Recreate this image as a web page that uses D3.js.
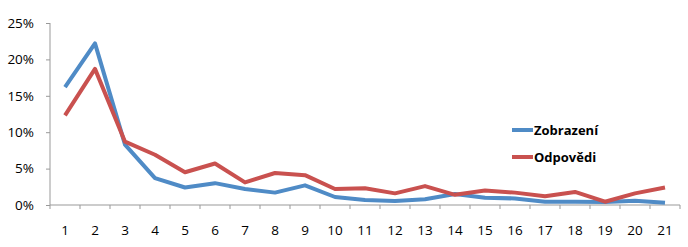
<!DOCTYPE html>
<html><head><meta charset="utf-8">
<script src="https://cdn.jsdelivr.net/npm/d3@7"></script>
<style>body{margin:0;background:#fff}svg{display:block}</style>
</head><body>
<script>
const categories = ["1","2","3","4","5","6","7","8","9","10","11","12","13","14","15","16","17","18","19","20","21"];
const zobrazeni = [16.2,22.2,8.3,3.7,2.4,3.0,2.2,1.7,2.7,1.1,0.7,0.55,0.8,1.5,1.0,0.9,0.45,0.45,0.4,0.6,0.3];
const odpovedi = [12.3,18.7,8.7,6.9,4.5,5.7,3.1,4.4,4.1,2.2,2.3,1.6,2.6,1.4,2.0,1.7,1.2,1.8,0.45,1.6,2.4];
const yTicks = [0,5,10,15,20,25];
const seriesNames = ["Zobrazení","Odpovědi"];
const colors = ["#4F8BC6","#C9514F"];

const W=688,H=247;
const svg=d3.select("body").append("svg").attr("width",W).attr("height",H);
const x=d3.scaleBand().domain(categories).range([50,680]);
const y=d3.scaleLinear().domain([0,25]).range([205,23]);
const font="'Open Sans', 'DejaVu Sans', sans-serif";

const yAxis=svg.append("g").attr("transform","translate(50,0)")
  .call(d3.axisLeft(y).tickValues(yTicks).tickFormat(d=>d+"%").tickSize(4).tickPadding(12));
const xAxis=svg.append("g").attr("transform","translate(0,205)")
  .call(d3.axisBottom(x).tickSize(4).tickPadding(16));
xAxis.selectAll(".tick line").remove();
const bounds=d3.range(0,categories.length+1).map(i=>50+i*x.bandwidth());
xAxis.selectAll(".bline").data(bounds).enter().append("line")
  .attr("x1",d=>d).attr("x2",d=>d).attr("y1",0).attr("y2",4).attr("stroke","#999");
[yAxis,xAxis].forEach(a=>{
  a.select(".domain").attr("stroke","#999");
  a.selectAll("line").attr("stroke","#999");
  a.selectAll("text").attr("font-family",font).attr("font-size",13.5).attr("fill","#000");
});
yAxis.select(".domain").attr("d","M0,23V205");
xAxis.select(".domain").attr("d","M50,0H680");

const line=d3.line().x((d,i)=>x(categories[i])+x.bandwidth()/2).y(d=>y(d));
[zobrazeni,odpovedi].forEach((s,k)=>{
  svg.append("path").datum(s).attr("d",line).attr("fill","none")
    .attr("stroke",colors[k]).attr("stroke-width",4).attr("stroke-linejoin","round");
});

const lg=svg.append("g");
seriesNames.forEach((n,k)=>{
  const yy=130+k*27;
  lg.append("line").attr("x1",512).attr("x2",533).attr("y1",yy).attr("y2",yy)
    .attr("stroke",colors[k]).attr("stroke-width",4);
  lg.append("text").attr("x",534).attr("y",yy).attr("dy","0.35em")
    .attr("font-family",font).attr("font-weight","bold").attr("font-size",13).text(n);
});
</script>
</body></html>
